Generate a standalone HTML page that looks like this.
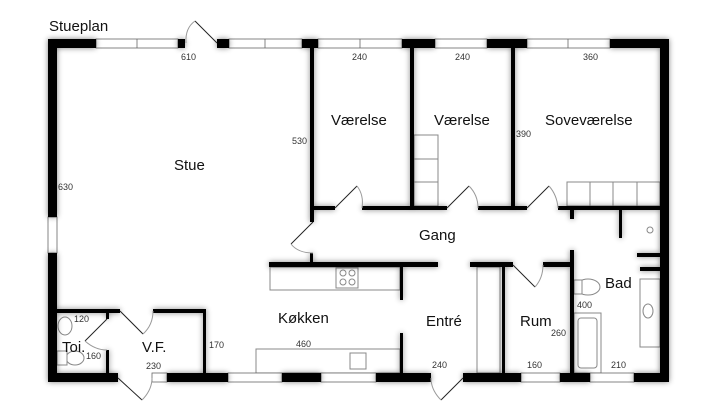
<!DOCTYPE html>
<html><head><meta charset="utf-8"><style>
body{margin:0;background:#fff}
svg{display:block}
text{font-family:"Liberation Sans",sans-serif}
.d{font-size:9px;fill:#333}
.r{font-size:15px;fill:#111}
</style></head><body>
<svg width="720" height="409" viewBox="0 0 720 409">
<defs><filter id="g" x="-10%" y="-10%" width="120%" height="120%"><feGaussianBlur in="SourceAlpha" stdDeviation="3"/><feComponentTransfer><feFuncA type="linear" slope="0.5"/></feComponentTransfer><feMerge><feMergeNode/><feMergeNode in="SourceGraphic"/></feMerge></filter></defs>
<text x="49" y="31" font-size="15" fill="#111" style="font-family:'Liberation Sans',sans-serif">Stueplan</text>
<!-- furniture -->
<g fill="#fff" stroke="#888" stroke-width="1">
<rect x="270" y="267" width="130" height="23"/>
<rect x="336" y="268" width="22" height="20"/>
<circle cx="343" cy="273" r="3"/><circle cx="352" cy="273" r="3"/><circle cx="343" cy="282" r="3"/><circle cx="352" cy="282" r="3"/>
<rect x="256" y="349" width="144" height="24"/>
<rect x="350" y="353" width="16" height="16"/>
<rect x="567" y="182" width="93" height="24"/>
<line x1="590" y1="182" x2="590" y2="206"/><line x1="613" y1="182" x2="613" y2="206"/><line x1="637" y1="182" x2="637" y2="206"/>
<rect x="414" y="135" width="24" height="71"/>
<line x1="414" y1="159" x2="438" y2="159"/><line x1="414" y1="182" x2="438" y2="182"/>
<rect x="477" y="267" width="23" height="106"/>
<rect x="574" y="313" width="27" height="60"/><rect x="578" y="318" width="19" height="50" rx="3"/>
<rect x="640" y="279" width="20" height="68"/><ellipse cx="648" cy="311" rx="5" ry="7"/>
<ellipse cx="588" cy="287" rx="12" ry="8"/><rect x="574" y="280" width="8" height="14"/>
<ellipse cx="65" cy="326" rx="7" ry="9"/><ellipse cx="75" cy="358" rx="9" ry="7"/><rect x="57" y="351" width="10" height="14"/>
<circle cx="650" cy="230" r="3"/>
</g>
<!-- windows -->
<g fill="#fff" stroke="#666" stroke-width="0.8">
<rect x="96" y="39" width="82" height="9"/><line x1="137" y1="39" x2="137" y2="48"/>
<rect x="229" y="39" width="73" height="9"/><line x1="265" y1="39" x2="265" y2="48"/>
<rect x="318" y="39" width="84" height="9"/><line x1="360" y1="39" x2="360" y2="48"/>
<rect x="435" y="39" width="52" height="9"/>
<rect x="527" y="39" width="83" height="9"/><line x1="568" y1="39" x2="568" y2="48"/>
<rect x="48" y="217" width="9" height="36"/>
<rect x="152" y="373" width="15" height="9"/>
<rect x="228" y="373" width="54" height="9"/>
<rect x="321" y="373" width="55" height="9"/>
<rect x="521" y="373" width="39" height="9"/>
<rect x="590" y="373" width="44" height="9"/>
</g>
<!-- walls -->
<g fill="#000" filter="url(#g)">
<rect x="48" y="39" width="48" height="9"/><rect x="178" y="39" width="7" height="9"/><rect x="217" y="39" width="12" height="9"/>
<rect x="302" y="39" width="16" height="9"/><rect x="402" y="39" width="33" height="9"/><rect x="487" y="39" width="40" height="9"/><rect x="610" y="39" width="59" height="9"/>
<rect x="48" y="39" width="9" height="178"/><rect x="48" y="253" width="9" height="129"/>
<rect x="660" y="39" width="9" height="343"/>
<rect x="48" y="373" width="70" height="9"/><rect x="167" y="373" width="61" height="9"/><rect x="282" y="373" width="39" height="9"/>
<rect x="376" y="373" width="55" height="9"/><rect x="463" y="373" width="58" height="9"/><rect x="560" y="373" width="30" height="9"/><rect x="634" y="373" width="35" height="9"/>
<rect x="310" y="48" width="4" height="174"/><rect x="310" y="253" width="3" height="12"/>
<rect x="410" y="48" width="4" height="158"/><rect x="511" y="48" width="4" height="162"/>
<rect x="310" y="206" width="25" height="4"/><rect x="362" y="206" width="85" height="4"/><rect x="478" y="206" width="49" height="4"/><rect x="558" y="206" width="102" height="4"/>
<rect x="570" y="209" width="4" height="10"/><rect x="619" y="209" width="3" height="29"/>
<rect x="570" y="250" width="4" height="123"/><rect x="637" y="253" width="23" height="4"/><rect x="640" y="267" width="20" height="4"/>
<rect x="269" y="262" width="169" height="5"/><rect x="470" y="262" width="43" height="5"/><rect x="543" y="262" width="30" height="5"/>
<rect x="400" y="265" width="3" height="35"/><rect x="400" y="333" width="3" height="40"/>
<rect x="502" y="265" width="3" height="108"/>
<rect x="57" y="309" width="63" height="4"/><rect x="106" y="313" width="3" height="6"/><rect x="106" y="350" width="3" height="23"/>
<rect x="153" y="309" width="53" height="4"/><rect x="203" y="309" width="3" height="64"/>
</g>
<!-- doors -->
<g fill="none" stroke="#222" stroke-width="1">
<line x1="217" y1="43" x2="195" y2="21"/><path d="M195 21 Q185 28 186 43" stroke="#999"/>
<line x1="313" y1="222" x2="291" y2="244"/><path d="M291 244 Q298 253 313 253" stroke="#999"/>
<line x1="335" y1="208" x2="357" y2="186"/><path d="M357 186 Q364 195 362 208" stroke="#999"/>
<line x1="447" y1="208" x2="469" y2="186"/><path d="M469 186 Q478 195 478 208" stroke="#999"/>
<line x1="527" y1="208" x2="549" y2="186"/><path d="M549 186 Q557 195 558 208" stroke="#999"/>
<line x1="513" y1="265" x2="535" y2="287"/><path d="M535 287 Q543 278 543 265" stroke="#999"/>
<line x1="120" y1="311" x2="143" y2="334"/><path d="M143 334 Q153 325 153 311" stroke="#999"/>
<line x1="118" y1="378" x2="142" y2="400"/><path d="M142 400 Q152 390 152 378" stroke="#999"/>
<line x1="463" y1="378" x2="441" y2="400"/><path d="M441 400 Q431 390 431 378" stroke="#999"/>
<line x1="107" y1="319" x2="85" y2="341"/><path d="M85 341 Q95 350 107 350" stroke="#999"/>
</g>
<!-- labels -->
<text class="r" x="174" y="170">Stue</text>
<text class="r" x="331" y="125">Værelse</text>
<text class="r" x="434" y="125">Værelse</text>
<text class="r" x="545" y="125">Soveværelse</text>
<text class="r" x="419" y="240">Gang</text>
<text class="r" x="605" y="288">Bad</text>
<text class="r" x="278" y="323">Køkken</text>
<text class="r" x="426" y="326">Entré</text>
<text class="r" x="520" y="326">Rum</text>
<text class="r" x="142" y="352">V.F.</text>
<text class="r" x="62" y="352">Toi.</text>
<text class="d" x="181" y="60">610</text>
<text class="d" x="352" y="60">240</text>
<text class="d" x="455" y="60">240</text>
<text class="d" x="583" y="60">360</text>
<text class="d" x="292" y="144">530</text>
<text class="d" x="516" y="137">390</text>
<text class="d" x="58" y="190">630</text>
<text class="d" x="74" y="322">120</text>
<text class="d" x="86" y="359">160</text>
<text class="d" x="146" y="369">230</text>
<text class="d" x="209" y="348">170</text>
<text class="d" x="296" y="347">460</text>
<text class="d" x="432" y="368">240</text>
<text class="d" x="527" y="368">160</text>
<text class="d" x="611" y="368">210</text>
<text class="d" x="577" y="308">400</text>
<text class="d" x="551" y="336">260</text>
</svg>
</body></html>
